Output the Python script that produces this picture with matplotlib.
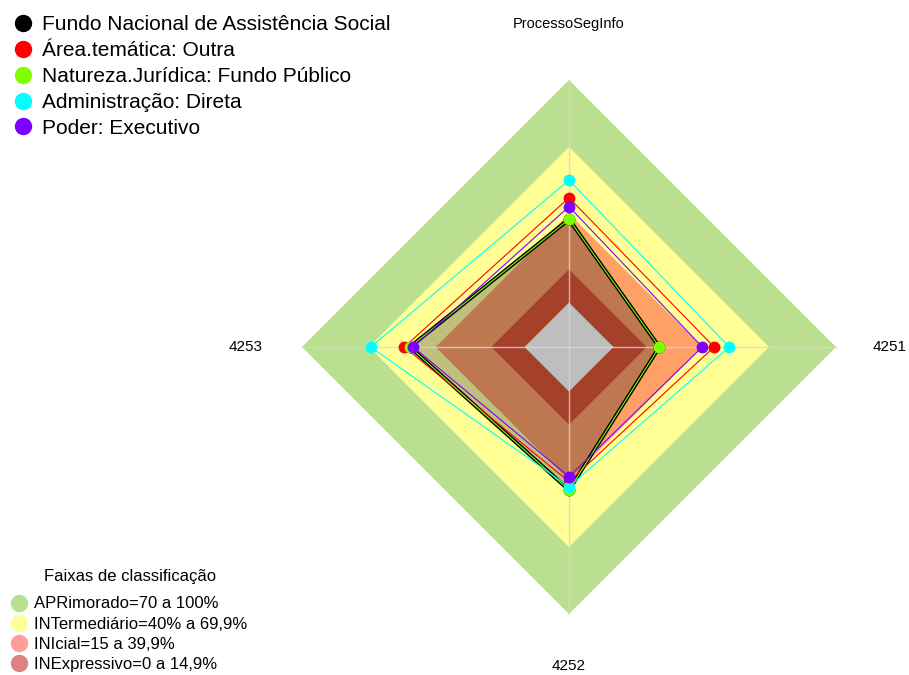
import numpy as np
import matplotlib
matplotlib.use("Agg")
import matplotlib.pyplot as plt
from matplotlib.patches import Polygon
from matplotlib.lines import Line2D

plt.rcParams['font.family'] = ['Liberation Sans', 'DejaVu Sans']

# ---------------- data ----------------
axis_labels = ["ProcessoSegInfo", "4251", "4252", "4253"]

series_names = ["Fundo Nacional de Assistência Social",
                "Área.temática: Outra",
                "Natureza.Jurídica: Fundo Público",
                "Administração: Direta",
                "Poder: Executivo"]
fundo = [37.4, 20.6, 44.3, 51.5]
area_tematica = [47.1, 45.2, 40.5, 54.0]
natureza = [37.4, 20.6, 44.3, 51.5]
administracao = [55.0, 52.0, 42.8, 69.1]
poder = [43.1, 39.9, 38.3, 50.0]
series_values = [fundo, area_tematica, natureza, administracao, poder]
series_colors = ["#000000", "#FF0000", "#7FFF00", "#00FFFF", "#7F00FF"]

band_title = "Faixas de classificação"
band_labels = ["APRimorado=70 a 100%", "INTermediário=40% a 69,9%",
               "INIcial=15 a 39,9%", "INExpressivo=0 a 14,9%"]
band_upper = [100, 69.9, 39.9, 14.9, 0]
band_legend_colors = ["#B9E08F", "#FFFF99", "#FF9C9C", "#DC8282"]
band_out_colors = ["#B9DF8F", "#FFFF96", "#FFA066", "#C8503A", "#FFFFFF"]
band_in_colors = ["#BFC27C", "#C0C07C", "#BE7850", "#A5402A", "#BEBEBE"]

# ---------------- geometry helpers ----------------
n = len(axis_labels)
angles = np.pi / 2 - np.arange(n) * 2 * np.pi / n


def radius(v):
    v = np.asarray(v, dtype=float)
    return 1.0 / 6.0 + 5.0 / 6.0 * v / 100.0


def xy(vals):
    r = radius(vals)
    return np.column_stack([r * np.cos(angles), r * np.sin(angles)])


W, H = 909, 675
fig = plt.figure(figsize=(W / 100, H / 100), dpi=100)
ax = fig.add_axes([0, 0, 1, 1])
ax.set_xlim(-569 / 267, 340 / 267)
ax.set_ylim(-328 / 267, 347 / 267)
ax.axis('off')

# background bands (outside data polygon)
for up, col in zip(band_upper, band_out_colors):
    ax.add_patch(Polygon(xy([up] * n), closed=True, facecolor=col,
                         edgecolor='none', zorder=1))

# bands inside the first series polygon
clip = Polygon(xy(series_values[0]), closed=True, transform=ax.transData)
for up, col in zip(band_upper, band_in_colors):
    p = Polygon(xy([up] * n), closed=True, facecolor=col,
                edgecolor='none', zorder=2)
    ax.add_patch(p)
    p.set_clip_path(clip)

# radial axis lines
for a in angles:
    ax.plot([0, np.cos(a)], [0, np.sin(a)], color='#D8D8D8', lw=1.0,
            alpha=0.8, zorder=3)

# axis labels
label_r = [1.21, 1.20, 1.195, 1.21]
for a, lab, rr in zip(angles, axis_labels, label_r):
    ax.text(rr * np.cos(a), rr * np.sin(a), lab, ha='center',
            va='center', fontsize=11 if lab != axis_labels[0] else 10.5,
            zorder=6)

# series
for i, (vals, col) in enumerate(zip(series_values, series_colors)):
    pts = xy(vals)
    closed = np.vstack([pts, pts[:1]])
    lw = 2.8 if i == 0 else 0.8
    ax.plot(closed[:, 0], closed[:, 1], color=col, lw=lw, zorder=4 + i * 0.1)
    ax.plot(pts[:, 0], pts[:, 1], ls='', marker='o', ms=7.5, color=col,
            zorder=4.05 + i * 0.1)

# legends
h1 = [Line2D([], [], ls='', marker='o', ms=11.5, color=c, label=nm)
      for nm, c in zip(series_names, series_colors)]
leg1 = ax.legend(handles=h1, loc='upper left',
                 bbox_to_anchor=(0.0, 1 - 9 / H),
                 bbox_transform=fig.transFigure, frameon=False, fontsize=15,
                 handletextpad=0.12, labelspacing=0.33, handlelength=1.6,
                 borderaxespad=0.0, borderpad=0.3)
ax.add_artist(leg1)

h2 = [Line2D([], [], ls='', marker='o', ms=11.5, color=c, label=lb)
      for lb, c in zip(band_labels, band_legend_colors)]
leg2 = ax.legend(handles=h2, loc='lower left', bbox_to_anchor=(0.0, -2 / H),
                 bbox_transform=fig.transFigure, frameon=False, fontsize=12,
                 handletextpad=0.05, labelspacing=0.31, handlelength=1.7,
                 borderaxespad=0.0, borderpad=0.3)
fig.text(130 / W, 1 - 577 / H, band_title, ha='center', va='center',
         fontsize=12)

fig.savefig("out.png", dpi=100)
